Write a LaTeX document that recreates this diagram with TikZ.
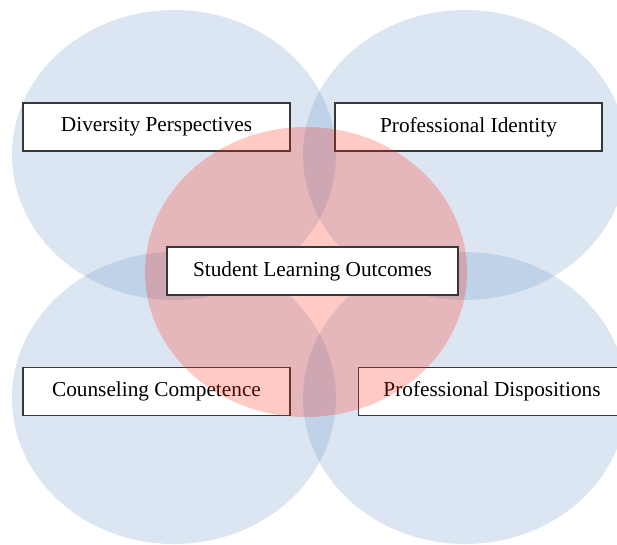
\documentclass[tikz,border=0pt]{standalone}
\usepackage{fontspec}
\setmainfont{Liberation Serif}
\usepackage{xcolor}
\usepackage{tikz}

\definecolor{areablue}{RGB}{79,129,189}
\definecolor{areared}{RGB}{255,40,20}
\tikzset{
	area/.style={fill=areablue, fill opacity=0.2},
	core/.style={fill=areared, fill opacity=0.25},
	labelbox/.style={shape=rectangle, draw=black!78, fill=white, line width=1.2pt, minimum width=267pt, minimum height=48pt, inner sep=0pt, font=\fontsize{21.3}{25}\selectfont}
}

\begin{document}
\begin{tikzpicture}[x=1pt,y=-1pt]
			\useasboundingbox (0,0) rectangle (617,544);
			\clip (0,0) rectangle (617,544);

			%% outer areas
			\fill[area] (174,155) ellipse [x radius=162, y radius=145];
			\fill[area] (465,155) ellipse [x radius=162, y radius=145];
			\fill[area] (174,398) ellipse [x radius=162, y radius=146];
			\fill[area] (465,398) ellipse [x radius=162, y radius=146];

			%% outer labels
			\node[labelbox] (dp) at (156.5,127) {Diversity Perspectives};
			\node[labelbox] (pi) at (468.5,127) {Professional Identity};
			\node[labelbox] (cc) at (156.5,391.5) {Counseling Competence};
			\node[labelbox] (pd) at (492,391.5) {Professional Dispositions};

			%% centre
			\fill[core] (306,272) ellipse [x radius=161, y radius=145];
			\node[labelbox, minimum width=291pt] (slo) at (312.5,271) {Student Learning Outcomes};
		\end{tikzpicture}
\end{document}
